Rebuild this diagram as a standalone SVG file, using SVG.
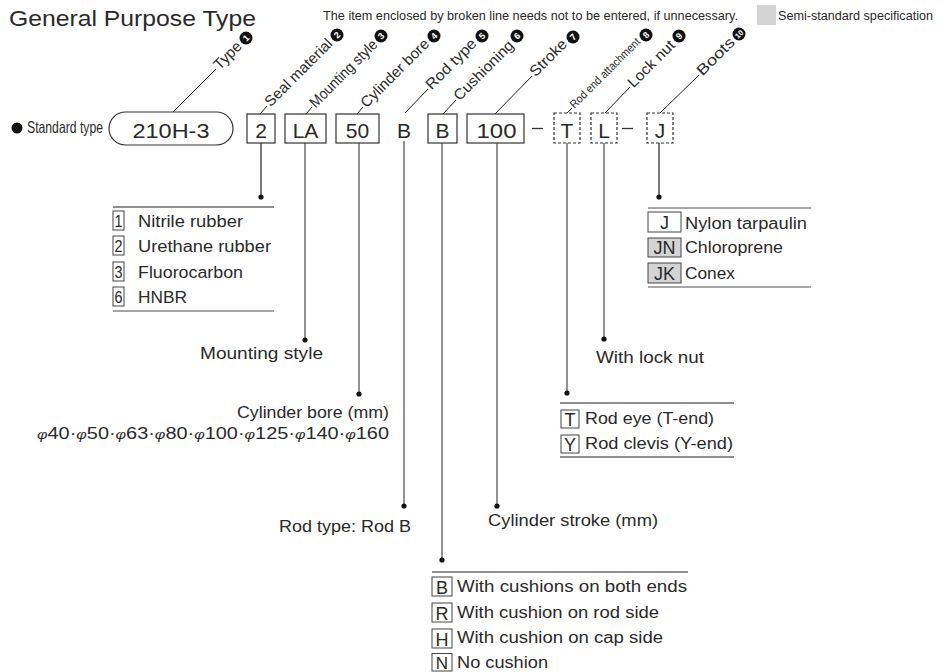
<svg xmlns="http://www.w3.org/2000/svg" width="942" height="672" viewBox="0 0 942 672">
<style>
text{font-family:"Liberation Sans",Arial,sans-serif;fill:#2a2a2a}
.title{font-size:22px}
.note{font-size:13.5px}
.code{font-size:21px;text-anchor:middle}
.lab{font-size:15px}
.desc{font-size:16px}
.sm{font-size:16px;text-anchor:middle}
.lt{font-size:18px;text-anchor:middle}
.num{font-size:9px;font-weight:bold;fill:#fff;text-anchor:middle}
.box{fill:#fff;stroke:#333;stroke-width:1.2}
.dbox{fill:#fff;stroke:#333;stroke-width:1.2;stroke-dasharray:3 2}
.ibox{fill:#fff;stroke:#444;stroke-width:1}
.gbox{fill:#d4d4d4;stroke:#444;stroke-width:1}
.lead{stroke:#222;stroke-width:1;fill:none}
.vk{stroke:#222;stroke-width:1.2;fill:none}
.vg{stroke:#777;stroke-width:1.6;fill:none}
.rk{stroke:#222;stroke-width:1.2}
.rg{stroke:#888;stroke-width:1.6}
.dot{fill:#111}
.badge{fill:#111}
</style>

<g id="header">
  <text class="title" x="9" y="26" textLength="247" lengthAdjust="spacingAndGlyphs">General Purpose Type</text>
  <text class="note" x="323" y="20" textLength="415" lengthAdjust="spacingAndGlyphs">The item enclosed by broken line needs not to be entered, if unnecessary.</text>
  <rect x="757" y="5" width="19" height="20" fill="#d4d4d4"/>
  <text x="778" y="20" style="font-size:12.5px" textLength="155" lengthAdjust="spacingAndGlyphs">Semi-standard specification</text>
</g>

<g id="standard-type">
  <circle cx="17" cy="128" r="5.5" fill="#111"/>
  <text x="27" y="133" style="font-size:16.5px" textLength="76" lengthAdjust="spacingAndGlyphs">Standard type</text>
</g>

<g id="connectors">
  <path class="lead" d="M173,112 L216,69"/>
  <path class="lead" d="M260,114 L267,106"/>
  <path class="lead" d="M306,114 L312,107"/>
  <path class="lead" d="M357,114 L363,107"/>
  <path class="lead" d="M405,113 L428,89"/>
  <path class="lead" d="M443,114 L456,100"/>
  <path class="lead" d="M495,114 L532,76"/>
  <path class="lead" d="M567,113 L572,108"/>
  <path class="lead" d="M605,113 L630,87"/>
  <path class="lead" d="M660,113 L699,75"/>
  <path class="vk" d="M261,143 V197"/>
  <path class="vg" d="M305,143 V340"/>
  <path class="vg" d="M359,143 V394"/>
  <path class="vg" d="M404,141 V506"/>
  <path class="vg" d="M442,143 V560"/>
  <path class="vg" d="M497,143 V506"/>
  <path class="vg" d="M567,143 V393"/>
  <path class="vg" d="M604,143 V339"/>
  <path class="vk" d="M659,143 V197"/>
  <circle class="dot" cx="261" cy="197" r="2.6"/>
  <circle class="dot" cx="305" cy="340" r="2.6"/>
  <circle class="dot" cx="359" cy="394" r="2.6"/>
  <circle class="dot" cx="404" cy="506" r="2.6"/>
  <circle class="dot" cx="442" cy="560" r="2.6"/>
  <circle class="dot" cx="497" cy="506" r="2.6"/>
  <circle class="dot" cx="567" cy="393" r="2.6"/>
  <circle class="dot" cx="604" cy="339" r="2.6"/>
  <circle class="dot" cx="659" cy="197" r="2.6"/>
</g>

<g id="node-type">
  <rect class="box" x="109" y="112" width="124" height="33" rx="16.5"/>
  <text class="code" x="171" y="137.5" textLength="77" lengthAdjust="spacingAndGlyphs">210H-3</text>
</g>
<g id="node-seal"><rect class="box" x="247" y="114" width="28" height="29"/><text class="code" x="261" y="137.5">2</text></g>
<g id="node-mount"><rect class="box" x="285" y="114" width="41" height="29"/><text class="code" x="305.5" y="137.5">LA</text></g>
<g id="node-bore"><rect class="box" x="336" y="114" width="43" height="29"/><text class="code" x="357.5" y="137.5">50</text></g>
<g id="node-rod"><text class="code" x="404" y="137.5">B</text></g>
<g id="node-cush"><rect class="box" x="428" y="114" width="29" height="29"/><text class="code" x="442.5" y="137.5">B</text></g>
<g id="node-stroke"><rect class="box" x="467" y="114" width="57" height="29"/><text class="code" x="496.5" y="137.5" textLength="40" lengthAdjust="spacingAndGlyphs">100</text></g>
<g id="dash1"><path d="M532,128.5 H543" stroke="#333" stroke-width="1.3"/></g>
<g id="node-rodend"><rect class="dbox" x="554" y="113" width="26" height="30"/><text class="code" x="567" y="137.5">T</text></g>
<g id="node-locknut"><rect class="dbox" x="591" y="113" width="26" height="30"/><text class="code" x="604" y="137.5">L</text></g>
<g id="dash2"><path d="M622,128.5 H633" stroke="#333" stroke-width="1.3"/></g>
<g id="node-boots"><rect class="dbox" x="647" y="113" width="26" height="30"/><text class="code" x="660" y="137.5">J</text></g>

<g id="label-1">
  <text class="lab" transform="translate(219.5,70.5) rotate(-45)" textLength="33" lengthAdjust="spacingAndGlyphs">Type</text>
  <circle class="badge" cx="246" cy="38" r="6.5"/><text class="num" transform="translate(246,38) rotate(-45)" y="3.2">1</text>
</g>
<g id="label-2">
  <text class="lab" transform="translate(270.5,107.5) rotate(-45)" textLength="89" lengthAdjust="spacingAndGlyphs">Seal material</text>
  <circle class="badge" cx="337" cy="35" r="6.5"/><text class="num" transform="translate(337,35) rotate(-45)" y="3.2">2</text>
</g>
<g id="label-3">
  <text class="lab" transform="translate(315.5,108.5) rotate(-45)" textLength="89" lengthAdjust="spacingAndGlyphs">Mounting style</text>
  <circle class="badge" cx="381" cy="36" r="6.5"/><text class="num" transform="translate(381,36) rotate(-45)" y="3.2">3</text>
</g>
<g id="label-4">
  <text class="lab" transform="translate(366.5,108.5) rotate(-45)" textLength="90" lengthAdjust="spacingAndGlyphs">Cylinder bore</text>
  <circle class="badge" cx="434" cy="36" r="6.5"/><text class="num" transform="translate(434,36) rotate(-45)" y="3.2">4</text>
</g>
<g id="label-5">
  <text class="lab" transform="translate(431.5,90.5) rotate(-45)" textLength="65" lengthAdjust="spacingAndGlyphs">Rod type</text>
  <circle class="badge" cx="482" cy="36" r="6.5"/><text class="num" transform="translate(482,36) rotate(-45)" y="3.2">5</text>
</g>
<g id="label-6">
  <text class="lab" transform="translate(459.5,101.5) rotate(-45)" textLength="78" lengthAdjust="spacingAndGlyphs">Cushioning</text>
  <circle class="badge" cx="517" cy="36" r="6.5"/><text class="num" transform="translate(517,36) rotate(-45)" y="3.2">6</text>
</g>
<g id="label-7">
  <text class="lab" transform="translate(535.5,77.5) rotate(-45)" textLength="46" lengthAdjust="spacingAndGlyphs">Stroke</text>
  <circle class="badge" cx="573" cy="37" r="6.5"/><text class="num" transform="translate(573,37) rotate(-45)" y="3.2">7</text>
</g>
<g id="label-8">
  <text transform="translate(574.5,109) rotate(-45)" style="font-size:11.5px" textLength="94" lengthAdjust="spacingAndGlyphs">Rod end attachment</text>
  <circle class="badge" cx="646" cy="35" r="6.5"/><text class="num" transform="translate(646,35) rotate(-45)" y="3.2">8</text>
</g>
<g id="label-9">
  <text class="lab" transform="translate(633.5,88.5) rotate(-45)" textLength="60" lengthAdjust="spacingAndGlyphs">Lock nut</text>
  <circle class="badge" cx="679" cy="36" r="6.5"/><text class="num" transform="translate(679,36) rotate(-45)" y="3.2">9</text>
</g>
<g id="label-10">
  <text class="lab" transform="translate(702.5,76.5) rotate(-45)" textLength="47" lengthAdjust="spacingAndGlyphs">Boots</text>
  <circle class="badge" cx="739" cy="34" r="6.5"/><text class="num" transform="translate(739,34) rotate(-45)" y="2.8" style="font-size:7.5px">10</text>
</g>

<g id="list-seal">
  <path class="rk" d="M113,207 H274"/>
  <rect class="ibox" x="113" y="211" width="11" height="19"/><text class="sm" x="118.5" y="227" textLength="8" lengthAdjust="spacingAndGlyphs">1</text>
  <text class="desc" x="138" y="227" textLength="105" lengthAdjust="spacingAndGlyphs">Nitrile rubber</text>
  <rect class="ibox" x="113" y="236" width="11" height="19"/><text class="sm" x="118.5" y="252" textLength="8" lengthAdjust="spacingAndGlyphs">2</text>
  <text class="desc" x="138" y="252" textLength="133" lengthAdjust="spacingAndGlyphs">Urethane rubber</text>
  <rect class="ibox" x="113" y="262" width="11" height="19"/><text class="sm" x="118.5" y="278" textLength="8" lengthAdjust="spacingAndGlyphs">3</text>
  <text class="desc" x="138" y="278" textLength="105" lengthAdjust="spacingAndGlyphs">Fluorocarbon</text>
  <rect class="ibox" x="113" y="287" width="11" height="19"/><text class="sm" x="118.5" y="303" textLength="8" lengthAdjust="spacingAndGlyphs">6</text>
  <text class="desc" x="138" y="303" textLength="49" lengthAdjust="spacingAndGlyphs">HNBR</text>
  <path class="rg" d="M113,311 H274"/>
</g>

<g id="desc-mount">
  <text class="desc" x="200" y="359" textLength="123" lengthAdjust="spacingAndGlyphs">Mounting style</text>
</g>

<g id="desc-bore">
  <text class="desc" x="389" y="418" text-anchor="end" textLength="152" lengthAdjust="spacingAndGlyphs">Cylinder bore (mm)</text>
  <text class="desc" x="37" y="439" textLength="352" lengthAdjust="spacingAndGlyphs"><tspan font-style="italic" style="font-size:13px">φ</tspan>40·<tspan font-style="italic" style="font-size:13px">φ</tspan>50·<tspan font-style="italic" style="font-size:13px">φ</tspan>63·<tspan font-style="italic" style="font-size:13px">φ</tspan>80·<tspan font-style="italic" style="font-size:13px">φ</tspan>100·<tspan font-style="italic" style="font-size:13px">φ</tspan>125·<tspan font-style="italic" style="font-size:13px">φ</tspan>140·<tspan font-style="italic" style="font-size:13px">φ</tspan>160</text>
</g>

<g id="desc-rod">
  <text class="desc" x="279" y="532" textLength="132" lengthAdjust="spacingAndGlyphs">Rod type: Rod B</text>
</g>

<g id="desc-stroke">
  <text class="desc" x="488" y="526" textLength="170" lengthAdjust="spacingAndGlyphs">Cylinder stroke (mm)</text>
</g>

<g id="list-cush">
  <path class="rk" d="M432,572 H688"/>
  <rect class="ibox" x="432" y="577" width="20" height="19"/><text class="lt" x="442" y="593.5">B</text>
  <text class="desc" x="457" y="592" textLength="230" lengthAdjust="spacingAndGlyphs">With cushions on both ends</text>
  <rect class="ibox" x="432" y="603" width="20" height="19"/><text class="lt" x="442" y="619.5">R</text>
  <text class="desc" x="457" y="618" textLength="202" lengthAdjust="spacingAndGlyphs">With cushion on rod side</text>
  <rect class="ibox" x="432" y="629" width="20" height="19"/><text class="lt" x="442" y="645.5">H</text>
  <text class="desc" x="457" y="643" textLength="206" lengthAdjust="spacingAndGlyphs">With cushion on cap side</text>
  <rect class="ibox" x="432" y="653.5" width="20" height="17.5"/><text class="lt" x="442" y="669" style="font-size:17px">N</text>
  <text class="desc" x="457" y="668" textLength="91" lengthAdjust="spacingAndGlyphs">No cushion</text>
</g>

<g id="list-rodend">
  <path class="rk" d="M560,403 H734"/>
  <rect class="ibox" x="561" y="410" width="18" height="18"/><text class="lt" x="570" y="426">T</text>
  <text class="desc" x="585" y="424" textLength="129" lengthAdjust="spacingAndGlyphs">Rod eye (T-end)</text>
  <rect class="ibox" x="561" y="435" width="18" height="18"/><text class="lt" x="570" y="451">Y</text>
  <text class="desc" x="585" y="449" textLength="148" lengthAdjust="spacingAndGlyphs">Rod clevis (Y-end)</text>
  <path class="rk" d="M560,457 H734"/>
</g>

<g id="desc-locknut">
  <text class="desc" x="596" y="363" textLength="108" lengthAdjust="spacingAndGlyphs">With lock nut</text>
</g>

<g id="list-boots">
  <path class="rg" d="M648,208 H811"/>
  <rect class="ibox" x="648" y="212" width="33" height="20"/><text class="lt" x="664.5" y="228.5">J</text>
  <text class="desc" x="685" y="229" textLength="122" lengthAdjust="spacingAndGlyphs">Nylon tarpaulin</text>
  <rect class="gbox" x="648" y="238" width="33" height="19"/><text class="lt" x="664.5" y="254">JN</text>
  <text class="desc" x="685" y="253" textLength="98" lengthAdjust="spacingAndGlyphs">Chloroprene</text>
  <rect class="gbox" x="648" y="263" width="33" height="20"/><text class="lt" x="664.5" y="279.5">JK</text>
  <text class="desc" x="685" y="279" textLength="50" lengthAdjust="spacingAndGlyphs">Conex</text>
  <path class="rg" d="M648,287 H811"/>
</g>
</svg>
